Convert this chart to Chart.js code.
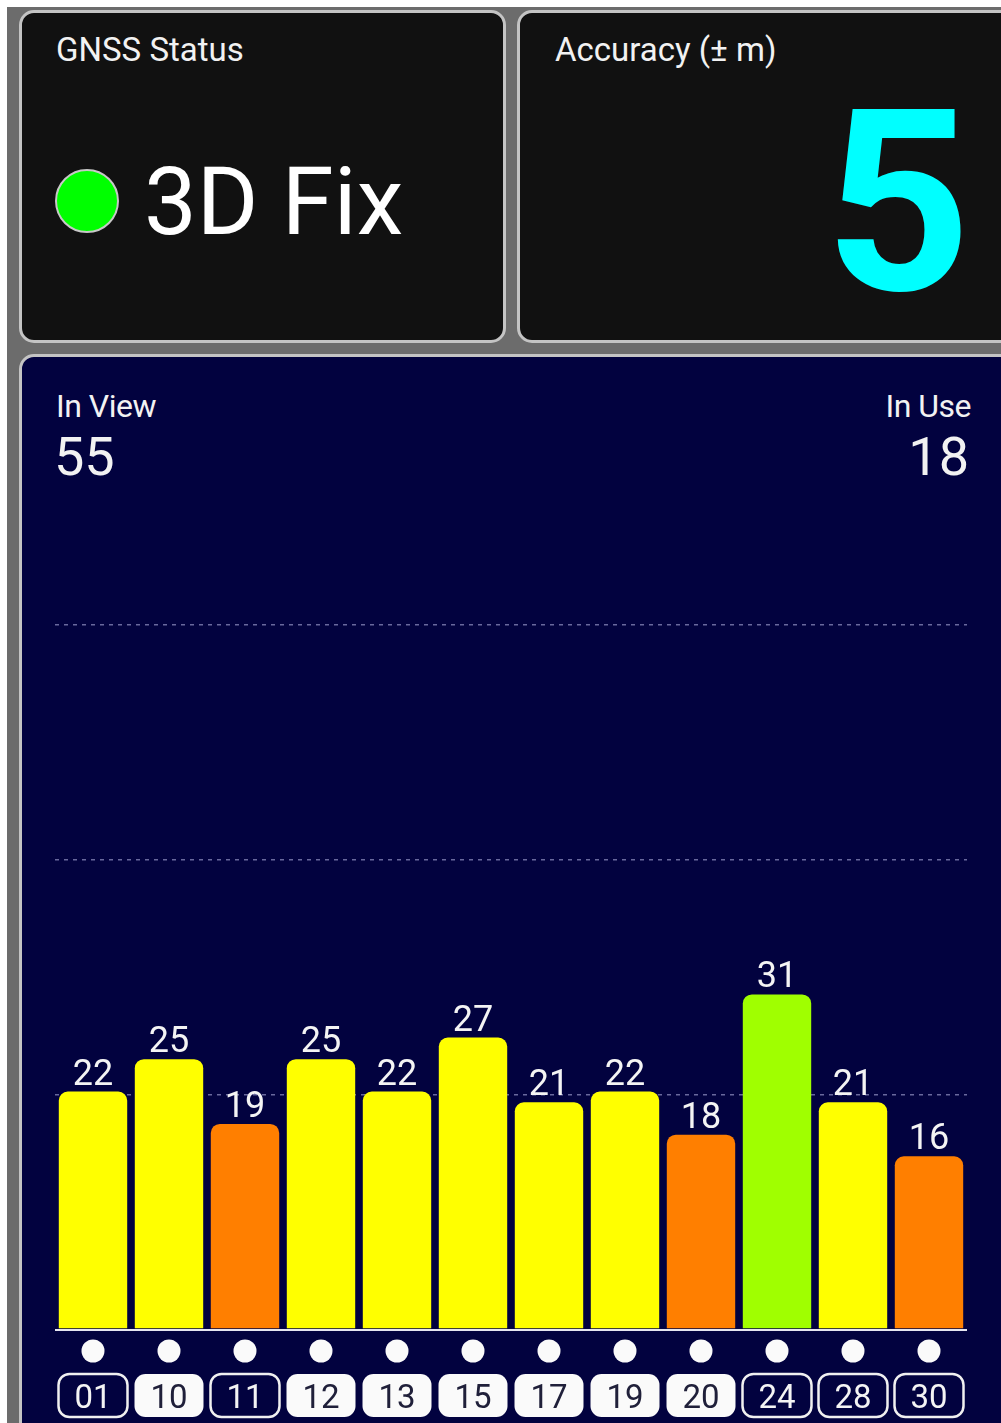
<!DOCTYPE html>
<html>
<head>
<meta charset="utf-8">
<script src="https://cdn.jsdelivr.net/npm/chart.js@4/dist/chart.umd.min.js"></script>
<style>
  html, body { margin: 0; padding: 0; background: #fff; }
  body { width: 1001px; height: 1423px; position: relative; overflow: hidden; font-family: Roboto, "Noto Sans", sans-serif; }
  #bg { position: absolute; left: 7px; top: 7px; right: 0; bottom: 0; background: #6c6c6c; }
  .panel { position: absolute; box-sizing: border-box; border: 3px solid #c4c4c4; border-radius: 15px; }
  #status { left: 19px; top: 10px; width: 487px; height: 333px; background: #111; }
  #accuracy { left: 517px; top: 10px; width: 500px; height: 333px; background: #111; }
  #sky { left: 19px; top: 354px; width: 1000px; height: 1100px; background: #02023f; }
  .t { position: absolute; color: #f2f2f2; white-space: nowrap; line-height: 1; }
  canvas { position: absolute; left: 0; top: 0; pointer-events: none; }
</style>
</head>
<body>
<div id="bg"></div>
<div class="panel" id="status"></div>
<div class="panel" id="accuracy"></div>
<div class="panel" id="sky"></div>

<div class="t" style="left:56px; top:33px; font-size:33px;">GNSS Status</div>
<div style="position:absolute; left:55px; top:169px; width:60px; height:60px; border-radius:50%; background:#00ff00; border:2px solid #c8c8c8;"></div>
<div class="t" style="left:144px; top:155px; font-size:94px; color:#fff;">3D Fix</div>

<div class="t" style="left:555px; top:33px; font-size:33px;">Accuracy (± m)</div>
<div class="t" style="right:36px; top:75px; font-size:255px; font-weight:bold; color:#00ffff; letter-spacing:-6px;">5</div>

<div class="t" style="left:56px; top:390px; font-size:32px; letter-spacing:-0.5px;">In View</div>
<div class="t" style="left:54px; top:430px; font-size:54px;">55</div>
<div class="t" style="right:30px; top:390px; font-size:32px; letter-spacing:-0.5px;">In Use</div>
<div class="t" style="right:32px; top:430px; font-size:54px;">18</div>

<canvas id="myChart" width="1001" height="1423"></canvas>

<script>
// satellite ids and signal strength (C/N0 dB-Hz)
var satIds = ['01', '10', '11', '12', '13', '15', '17', '19', '20', '24', '28', '30'];
var snrValues = [22, 25, 19, 25, 22, 27, 21, 22, 18, 31, 21, 16];
var usedInFix = [false, true, false, true, true, true, true, true, true, false, false, false];
var gridTicks = [0, 21.75, 43.5, 65.25];
var yMax = 87;

function barColor(v) {
    if (v >= 30) return '#a0ff00';
    if (v >= 20) return '#ffff00';
    return '#ff7f00';
}

function roundRect(ctx, x, y, w, h, r) {
    ctx.beginPath();
    ctx.moveTo(x + r, y);
    ctx.arcTo(x + w, y, x + w, y + h, r);
    ctx.arcTo(x + w, y + h, x, y + h, r);
    ctx.arcTo(x, y + h, x, y, r);
    ctx.arcTo(x, y, x + w, y, r);
    ctx.closePath();
}

var satPlugin = {
    id: 'satPlugin',
    afterDatasetsDraw: function(chart) {
        var ctx = chart.ctx;
        var area = chart.chartArea;
        var xs = chart.scales.x;
        var meta = chart.getDatasetMeta(0);
        ctx.save();

        // baseline
        ctx.strokeStyle = '#e6e6f0';
        ctx.lineWidth = 2;
        ctx.beginPath();
        ctx.moveTo(area.left, area.bottom + 1);
        ctx.lineTo(area.right, area.bottom + 1);
        ctx.stroke();

        ctx.textAlign = 'center';
        snrValues.forEach(function(v, i) {
            var bar = meta.data[i];
            var cx = xs.getPixelForValue(i);

            // value above bar
            ctx.fillStyle = '#f4f4f4';
            ctx.font = '36px Roboto';
            ctx.textBaseline = 'alphabetic';
            ctx.fillText(String(v), bar.x, bar.y - 7);

            // dot
            ctx.fillStyle = '#fafafa';
            ctx.beginPath();
            ctx.arc(cx, area.bottom + 22, 11.5, 0, Math.PI * 2);
            ctx.fill();

            // id box
            var bw = 69, bh = 43;
            var bx = cx - bw / 2, by = area.bottom + 45;
            roundRect(ctx, bx, by, bw, bh, 11);
            if (usedInFix[i]) {
                ctx.fillStyle = '#fafafa';
                ctx.fill();
                ctx.fillStyle = '#20203a';
            } else {
                ctx.strokeStyle = '#f0f0f0';
                ctx.lineWidth = 2.5;
                ctx.stroke();
                ctx.fillStyle = '#f4f4f4';
            }
            ctx.font = '33px Roboto';
            ctx.fillText(satIds[i], cx, by + 34);
        });
        ctx.restore();
    }
};

var ctx = document.getElementById('myChart').getContext('2d');
var myChart = new Chart(ctx, {
    type: 'bar',
    data: {
        labels: satIds,
        datasets: [{
            data: snrValues,
            backgroundColor: snrValues.map(barColor),
            borderWidth: 0,
            borderRadius: { topLeft: 9, topRight: 9, bottomLeft: 0, bottomRight: 0 },
            borderSkipped: 'bottom',
            barPercentage: 0.9,
            categoryPercentage: 1.0
        }]
    },
    options: {
        responsive: false,
        animation: false,
        devicePixelRatio: 1,
        layout: { padding: { left: 55, right: 34, top: 390, bottom: 94 } },
        plugins: { legend: { display: false }, tooltip: { enabled: false } },
        scales: {
            x: { display: false },
            y: {
                min: 0,
                max: yMax,
                afterBuildTicks: function(axis) {
                    axis.ticks = gridTicks.map(function(v) { return { value: v }; });
                },
                ticks: { display: false },
                grid: {
                    drawTicks: false,
                    lineWidth: 1.5,
                    color: function(c) { return c.tick && c.tick.value === 0 ? 'rgba(0,0,0,0)' : 'rgba(140,140,190,0.75)'; }
                },
                // in v4 the dash of the grid lines lives on border
                border: { display: false, dash: [4, 5] }
            }
        }
    },
    plugins: [satPlugin]
});
</script>
</body>
</html>
